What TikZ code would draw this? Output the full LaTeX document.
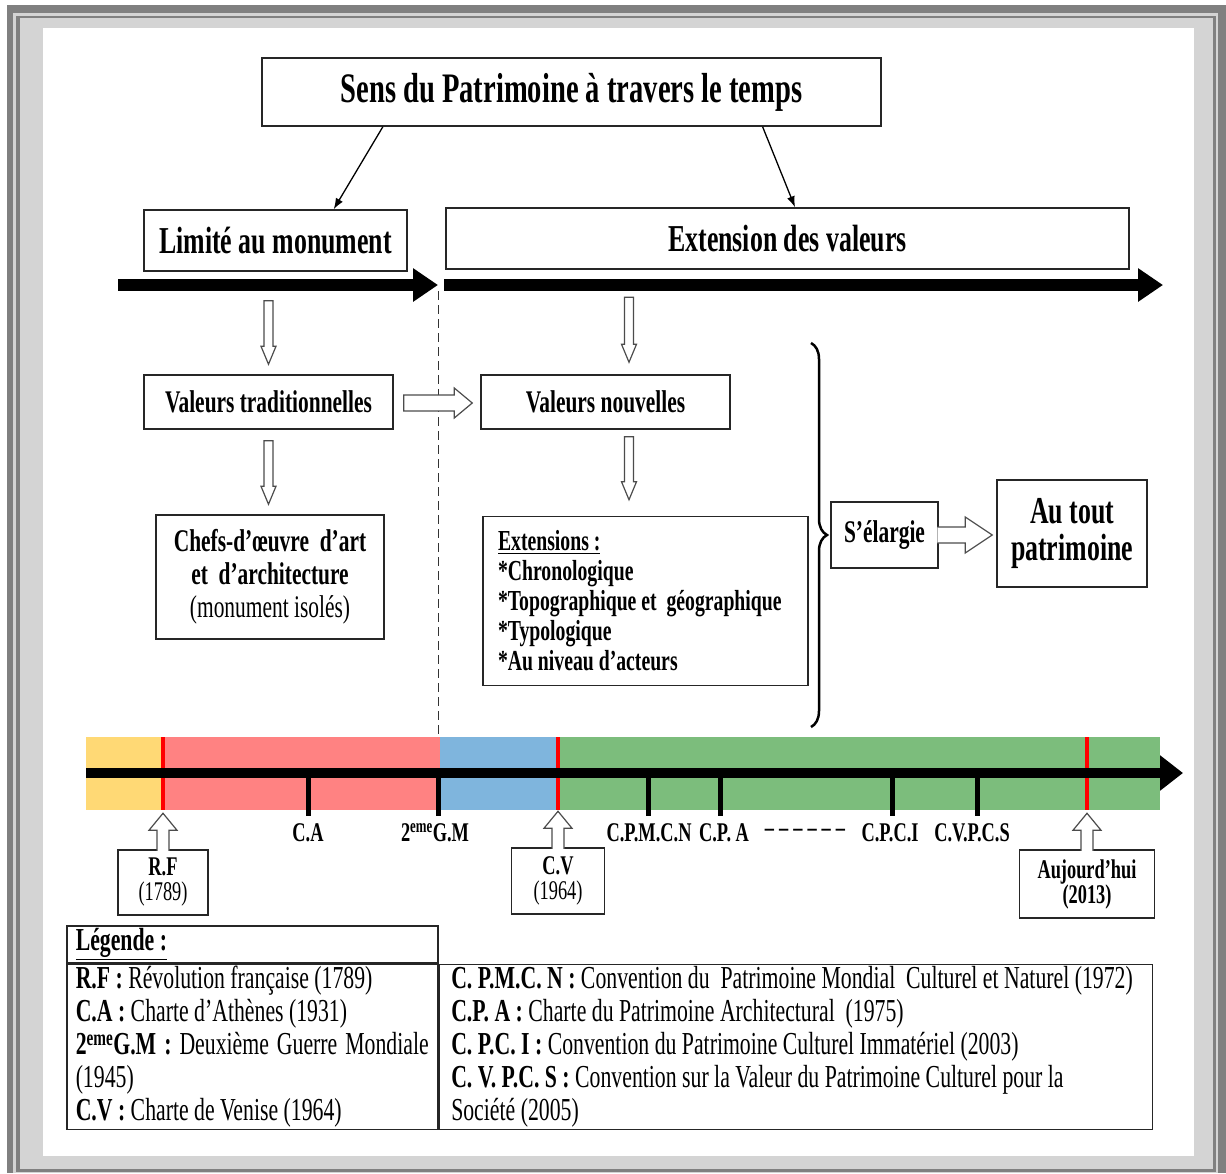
\documentclass[tikz,border=0pt]{standalone}
\usepackage{fontspec}
\setmainfont{Liberation Serif}[FakeStretch=0.68]
\usepackage{xcolor}
\usepackage{tikz}
\usetikzlibrary{arrows, arrows.meta, calc, decorations.pathreplacing}
\newcommand{\setfs}[2]{\fontsize{#1}{#2}\selectfont}
\definecolor{framedark}{RGB}{128,128,128}
\definecolor{framelight}{RGB}{212,212,212}
\definecolor{eraold}{RGB}{255,217,117}
\definecolor{erarev}{RGB}{255,130,130}
\definecolor{erawar}{RGB}{127,181,221}
\definecolor{eranew}{RGB}{124,189,124}
\tikzset{
    >={Latex[length=11pt, width=8pt]},
    box/.style={draw=black!85, line width=1.5pt, fill=white, inner sep=0pt, align=center},
    cell/.style={draw=black!85, line width=1.5pt, inner sep=0pt, align=flush left, anchor=north west, font=\setfs{32}{33}},
    blockarrow/.style n args={4}{draw=black!70, line width=1.2pt, fill=white, line join=miter,
        to path={let \p1=($(\tikztotarget)!#3!(\tikztostart)$) in
            ($(\tikztostart)!#1!90:(\tikztotarget)$) -- ($(\p1)!#1!-90:(\tikztostart)$)
            -- ($(\p1)!#2!-90:(\tikztostart)$) -- (\tikztotarget)
            -- ($(\p1)!#2!90:(\tikztostart)$) -- ($(\p1)!#1!90:(\tikztostart)$)
            -- ($(\tikztostart)!#1!-90:(\tikztotarget)$) #4}},
    hollow/.style n args={3}{blockarrow={#1}{#2}{#3}{-- cycle}},
    openhollow/.style n args={3}{blockarrow={#1}{#2}{#3}{}},
    axis/.style={line width=12pt, -{Triangle[length=25pt, width=32pt]}},
    timeaxis/.style={line width=10pt, -{Triangle[length=23pt, width=34pt]}},
    separator/.style={black!80, line width=1pt, dash pattern=on 9pt off 5pt},
    brace/.style={decorate, decoration={brace, amplitude=16pt}, line width=2.5pt},
    marker/.style={red, line width=4pt},
    tick/.style={line width=5pt},
    ticklabel/.style={font=\setfs{27}{25}\bfseries, inner sep=0pt},
}
\begin{document}
\begin{tikzpicture}[x=1pt, y=-1pt]
    \fill[framedark] (7,5) rectangle (1226,1173);
    \fill[framelight] (13,13) rectangle (1218,1173);
    \fill[framedark] (16,16) rectangle (1216,1172);
    \fill[framelight] (20,18) rectangle (1213,1169);
    \fill[white] (43,28) rectangle (1194,1156);
    \useasboundingbox (0,0) rectangle (1226,1173);

    \node[box, minimum width=619pt, minimum height=68pt, font=\setfs{42}{48}\bfseries] (title) at (571.5,92) {Sens du Patrimoine à travers le temps};
    \node[box, minimum width=263pt, minimum height=61pt, font=\setfs{38}{40}\bfseries] (lim) at (275.5,240.5) {Limité au monument};
    \node[box, minimum width=683pt, minimum height=61pt, font=\setfs{38}{40}\bfseries] (ext) at (787.5,238.5) {Extension des valeurs};
    \draw[->, line width=1.3pt] ($(title.south west)!0.196!(title.south east)$) -- ($(lim.north west)!0.72!(lim.north east)$);
    \draw[->, line width=1.3pt] ($(title.south west)!0.808!(title.south east)$) -- ($(ext.north west)!0.511!(ext.north east)$);

    \coordinate (a0) at (118,285);
    \coordinate (a1) at (438,285);
    \coordinate (b0) at (444,285);
    \coordinate (b1) at (1163,285);
    \draw[axis] (a0) -- (a1);
    \draw[axis] (b0) -- (b1);
    \draw[separator] (438,291) -- (438,737);

    \node[box, minimum width=249pt, minimum height=54pt, font=\setfs{31.5}{34}\bfseries] (vt) at (268.5,402) {Valeurs traditionnelles};
    \node[box, minimum width=249pt, minimum height=54pt, font=\setfs{31.5}{34}\bfseries] (vn) at (605.5,402) {Valeurs nouvelles};
    \node[box, minimum width=228pt, minimum height=124pt, font=\setfs{31.5}{33}\bfseries] (chefs) at (270,577) {Chefs-d’œuvre\ \ d’art\\ et\ \ d’architecture\\ \mdseries(monument isolés)};
    \node[box, minimum width=325pt, minimum height=169pt, text width=295pt, align=flush left, font=\setfs{29}{30}\bfseries] (exts) at (645.5,601) {\underline{Extensions :}\\{*}Chronologique\\{*}Topographique et\ \ géographique\\{*}Typologique\\{*}Au niveau d’acteurs};
    \draw[brace] (811,343) -- (811,727);
    \node[box, minimum width=107pt, minimum height=66pt, font=\setfs{31.5}{34}\bfseries] (sel) at (884.5,535) {S’élargie};
    \node[box, minimum width=150pt, minimum height=107pt, font=\setfs{38}{37}\bfseries] (tout) at (1072,533.5) {Au tout\\ patrimoine};

    \draw[hollow={4.5pt}{7.5pt}{18pt}] ($(vt.north |- lim.south)+(0,29)$) to ($(vt.north)+(0,-10)$);
    \draw[hollow={4.5pt}{7.5pt}{18pt}] ($(vt.south)+(0,11)$) to ($(vt.south |- chefs.north)+(0,-10)$);
    \draw[hollow={4.5pt}{7.5pt}{18pt}] ($(vn.north)+(23.5,-77)$) to ($(vn.north)+(23.5,-12)$);
    \draw[hollow={4.5pt}{7.5pt}{18pt}] ($(vn.south)+(23.5,7)$) to ($(vn.south |- exts.north)+(23.5,-16)$);
    \draw[hollow={8pt}{15pt}{18pt}] ($(vt.east)+(10,1)$) to ($(vn.west)+(-8,1)$);
    \draw[openhollow={8pt}{18pt}{27pt}] ($(sel.east)+(-1.5,0)$) to ($(sel.east -| tout.west)+(-4,0)$);

    \foreach \a/\b/\era in {86/163/eraold, 163/440/erarev, 440/558/erawar, 558/1160/eranew}
        \fill[\era] (\a,737) rectangle (\b,810);
    \foreach \x in {163,558,1087} \draw[marker] (\x,737) -- (\x,810);
    \draw[timeaxis] (86,773) -- (1183,773);
    \foreach \x/\lx/\lab in {308/308/C.A, 438/435/2\textsuperscript{eme}G.M, 648/649/C.P.M.C.N, 720/724/C.P.\,A, 892/890/C.P.C.I, 977/972/C.V.P.C.S} {
        \draw[tick] (\x,773) -- (\x,816);
        \node[ticklabel] (l\x) at (\lx,833) {\lab};
    };
    \node[ticklabel] (etc) at (805,833) {--\hspace{5pt}--\hspace{5pt}--\hspace{5pt}--\hspace{5pt}--\hspace{5pt}--};

    \node[box, minimum width=90pt, minimum height=65pt, font=\setfs{27}{25}] (rf) at (163,882.5) {\textbf{R.F}\\(1789)};
    \node[box, minimum width=93pt, minimum height=66pt, font=\setfs{27}{25}] (cv) at (558,881) {\textbf{C.V}\\(1964)};
    \node[box, minimum width=135pt, minimum height=68pt, font=\setfs{27}{25}\bfseries] (auj) at (1087,884) {Aujourd’hui\\(2013)};
    \foreach \n in {rf,cv,auj}
        \draw[openhollow={6pt}{14pt}{17pt}] ($(\n.north)+(0,1.5)$) to ($(\n.north)+(0,-36)$);

    \node[cell, minimum width=371pt, minimum height=37pt, text width=353pt] (legH) at (66,925) {\underline{\textbf{Légende :}}};
    \node[cell, minimum width=371pt, minimum height=165pt, text width=353pt] (legL) at (legH.south west) {%
        \textbf{R.F :} Révolution française (1789)\\
        \textbf{C.A :} Charte d’Athènes (1931)\\
        \makebox[\hsize][s]{\textbf{2\textsuperscript{eme}G.M :} Deuxième Guerre Mondiale}\\
        (1945)\\
        \textbf{C.V :} Charte de Venise (1964)};
    \node[cell, minimum width=713pt, minimum height=165pt, text width=689pt] (legR) at (legL.north east) {%
        \textbf{C. P.M.C. N :} Convention du\ \ Patrimoine Mondial\ \ Culturel et Naturel (1972)\\
        \textbf{C.P. A :} Charte du Patrimoine Architectural\ \ (1975)\\
        \textbf{C. P.C. I :} Convention du Patrimoine Culturel Immatériel (2003)\\
        \textbf{C. V. P.C. S :} Convention sur la Valeur du Patrimoine Culturel pour la\\
        Société (2005)};
\end{tikzpicture}
\end{document}
